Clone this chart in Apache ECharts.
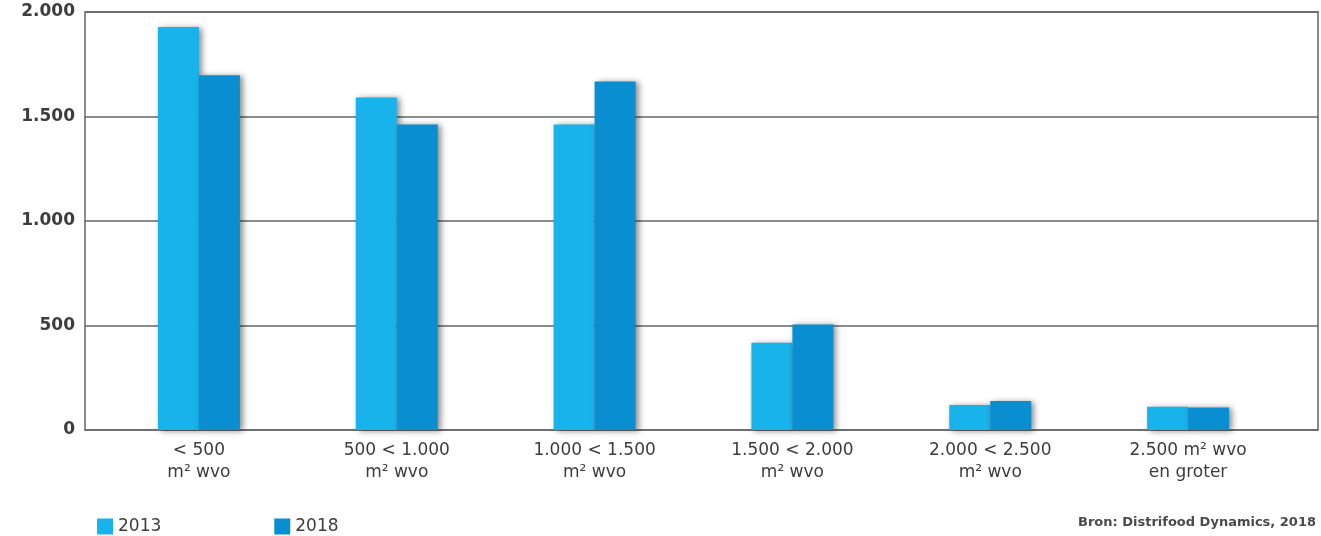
<!DOCTYPE html>
<html>
<head>
<meta charset="utf-8">
<script src="https://cdn.jsdelivr.net/npm/echarts@6/dist/echarts.min.js"></script>
<style>
  html, body { margin: 0; padding: 0; background: #fff; }
  #chart { width: 1321px; height: 536px; }
</style>
</head>
<body>
<div id="chart"></div>
<script>
// Winkelaantallen per oppervlakteklasse (m² winkelvloeroppervlak)
const categories = [
  '< 500\nm² wvo',
  '500 < 1.000\nm² wvo',
  '1.000 < 1.500\nm² wvo',
  '1.500 < 2.000\nm² wvo',
  '2.000 < 2.500\nm² wvo',
  '2.500 m² wvo\nen groter'
];
const values2013 = [1928, 1591, 1462, 418, 120, 111];
const values2018 = [1697, 1462, 1668, 505, 139, 108];
const seriesNames = ['2013', '2018'];
const yTickLabels = ['0', '500', '1.000', '1.500', '2.000'];
const sourceText = 'Bron: Distrifood Dynamics, 2018';

const colors = ['#17b3ea', '#0a8ed2'];
const font = '"DejaVu Sans", "Noto Sans", sans-serif';
const textColor = '#3d3d3d';

const chart = echarts.init(document.getElementById('chart'));

const barStyle = (c) => ({
  color: c,
  shadowColor: 'rgba(0,0,0,0.45)',
  shadowBlur: 6,
  shadowOffsetX: 3,
  shadowOffsetY: 1
});

chart.setOption({
  backgroundColor: '#ffffff',
  animation: false,
  color: colors,
  grid: [
    // bars
    { left: 100, right: 34, top: 12, bottom: 106 },
    // frame, gridlines and value labels
    { left: 85, right: 3, top: 12, bottom: 106, show: true, borderColor: '#8a8a8a', borderWidth: 2, backgroundColor: 'transparent' }
  ],
  legend: {
    left: 92,
    top: 513,
    itemWidth: 16,
    itemHeight: 16,
    itemGap: 113,
    icon: 'rect',
    data: seriesNames,
    textStyle: { fontFamily: font, fontSize: 17, color: textColor, padding: [1, 0, 0, 0] }
  },
  xAxis: [
    {
      type: 'category',
      gridIndex: 0,
      data: categories,
      axisLine: { show: false },
      axisTick: { show: false },
      axisLabel: {
        interval: 0,
        margin: 10,
        fontFamily: font,
        fontSize: 17,
        lineHeight: 22,
        color: textColor
      }
    },
    {
      type: 'category',
      gridIndex: 1,
      data: categories,
      show: false
    }
  ],
  yAxis: [
    {
      type: 'value',
      gridIndex: 0,
      min: 0,
      max: 2000,
      interval: 500,
      show: false
    },
    {
      type: 'value',
      gridIndex: 1,
      min: 0,
      max: 2000,
      interval: 500,
      axisLine: { show: false },
      axisTick: { show: false },
      splitLine: { lineStyle: { color: '#666', width: 1.5 } },
      axisLabel: {
        margin: 10,
        fontFamily: font,
        fontSize: 17,
        fontWeight: 'bold',
        color: textColor,
        formatter: (v) => yTickLabels[Math.round(v / 500)]
      }
    }
  ],
  graphic: [
    {
      type: 'text',
      right: 5,
      top: 516,
      style: { text: sourceText, fontFamily: font, fontSize: 13, fontWeight: 'bold', fill: '#4a4a4a' }
    }
  ],
  series: [
    {
      name: seriesNames[0],
      type: 'bar',
      xAxisIndex: 0,
      yAxisIndex: 0,
      data: values2013,
      barWidth: 41,
      barGap: '0%',
      itemStyle: barStyle(colors[0])
    },
    {
      name: seriesNames[1],
      type: 'bar',
      xAxisIndex: 0,
      yAxisIndex: 0,
      data: values2018,
      barWidth: 41,
      barGap: '0%',
      itemStyle: barStyle(colors[1])
    }
  ]
});
</script>
</body>
</html>
